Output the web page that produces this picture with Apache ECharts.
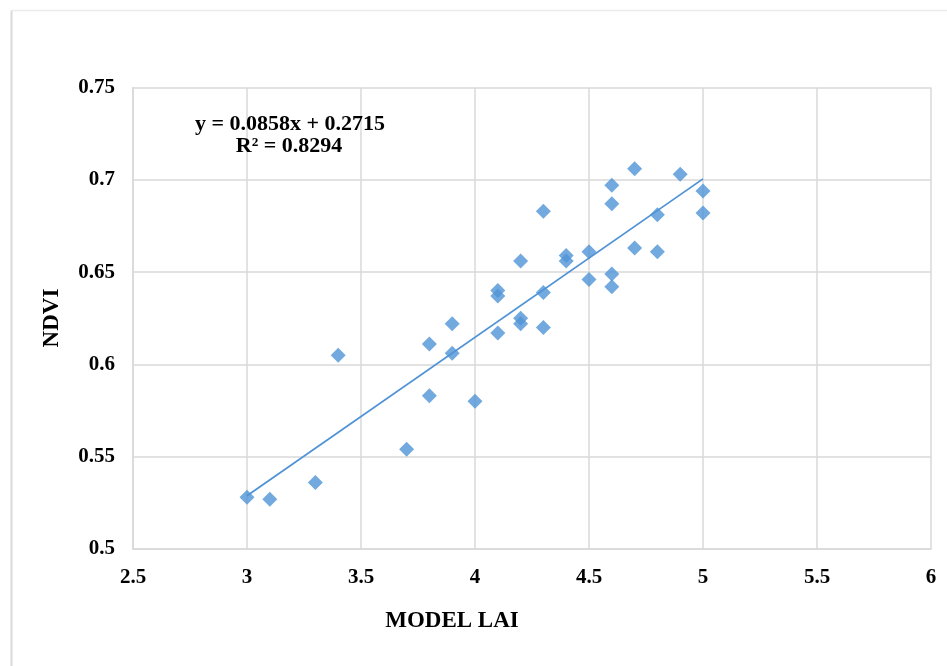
<!DOCTYPE html>
<html>
<head>
<meta charset="utf-8">
<script src="https://cdn.jsdelivr.net/npm/echarts@6/dist/echarts.min.js"></script>
<style>
html,body{margin:0;padding:0;background:#fff;}
#chart{width:947px;height:666px;}
</style>
</head>
<body>
<div id="chart"></div>
<script>
// Data
var modelLAI = [3.0, 3.1, 3.3, 3.4, 3.7, 3.8, 3.8, 3.9, 3.9, 4.0, 4.1, 4.1, 4.1, 4.2, 4.2, 4.2, 4.3, 4.3, 4.3, 4.4, 4.4, 4.5, 4.5, 4.6, 4.6, 4.6, 4.6, 4.7, 4.7, 4.8, 4.8, 4.9, 5.0, 5.0];
var ndvi = [0.528, 0.527, 0.536, 0.605, 0.554, 0.611, 0.583, 0.622, 0.606, 0.580, 0.617, 0.640, 0.637, 0.656, 0.625, 0.622, 0.683, 0.639, 0.620, 0.659, 0.656, 0.661, 0.646, 0.697, 0.687, 0.649, 0.642, 0.706, 0.663, 0.681, 0.661, 0.703, 0.694, 0.682];
var trendCoef = [0.0858, 0.2715]; // slope, intercept
var trendRange = [3.0, 5.0];
var xTicks = [2.5, 3, 3.5, 4, 4.5, 5, 5.5, 6];
var yTicks = [0.5, 0.55, 0.6, 0.65, 0.7, 0.75];
var eqText = ['y = 0.0858x + 0.2715', 'R² = 0.8294'];
var xName = 'MODEL LAI';
var yName = 'NDVI';

var points = modelLAI.map(function (x, i) { return [x, ndvi[i]]; });
var trend = trendRange.map(function (x) { return [x, trendCoef[0] * x + trendCoef[1]]; });

var font = '"Liberation Serif", "Times New Roman", serif';
var gridColor = '#d9d9d9';
var blue = '#4f93d6';

var chart = echarts.init(document.getElementById('chart'));
chart.setOption({
  backgroundColor: '#ffffff',
  animation: false,
  grid: { left: 133, top: 87.5, width: 798, height: 461.5, containLabel: false },
  xAxis: {
    type: 'value', min: xTicks[0], max: xTicks[xTicks.length - 1], interval: 0.5,
    axisLine: { show: true, lineStyle: { color: gridColor, width: 1.5 } },
    axisTick: { show: false },
    splitLine: { show: true, lineStyle: { color: gridColor, width: 1.5 } },
    axisLabel: { color: '#000', fontFamily: font, fontWeight: 'bold', fontSize: 21, margin: 18 }
  },
  yAxis: {
    type: 'value', min: yTicks[0], max: yTicks[yTicks.length - 1], interval: 0.05,
    axisLine: { show: true, lineStyle: { color: gridColor, width: 1.5 } },
    axisTick: { show: false },
    splitLine: { show: true, lineStyle: { color: gridColor, width: 1.5 } },
    axisLabel: {
      color: '#000', fontFamily: font, fontWeight: 'bold', fontSize: 21, margin: 18,
      formatter: function (v) { return String(parseFloat(v.toFixed(2))); }
    }
  },
  series: [
    {
      type: 'line', data: trend, showSymbol: false, symbol: 'none',
      lineStyle: { color: blue, width: 1.8 }, z: 2, silent: true
    },
    {
      type: 'scatter', data: points, symbol: 'diamond', symbolSize: 15,
      itemStyle: { color: blue }, z: 3
    }
  ],
  graphic: [
    { type: 'line', shape: { x1: 11.5, y1: 10.5, x2: 947, y2: 10.5 }, style: { stroke: '#ececec', lineWidth: 1.5 } },
    { type: 'line', shape: { x1: 11.5, y1: 10.5, x2: 11.5, y2: 666 }, style: { stroke: '#dadada', lineWidth: 2 } },
    { type: 'text', x: 290, y: 124, z: 10, style: { text: eqText[0], fill: '#000', font: 'bold 22px ' + font, textAlign: 'center', textVerticalAlign: 'middle' } },
    { type: 'text', x: 289, y: 146, z: 11, style: { text: eqText[1], fill: '#000', font: 'bold 22px ' + font, textAlign: 'center', textVerticalAlign: 'middle' } },
    { type: 'text', x: 452, y: 621, style: { text: xName, fill: '#000', font: 'bold 23px ' + font, textAlign: 'center', textVerticalAlign: 'middle' } },
    { type: 'text', x: 52, y: 318, rotation: Math.PI / 2, style: { text: yName, fill: '#000', font: 'bold 23px ' + font, textAlign: 'center', textVerticalAlign: 'middle' } }
  ]
});
</script>
</body>
</html>
